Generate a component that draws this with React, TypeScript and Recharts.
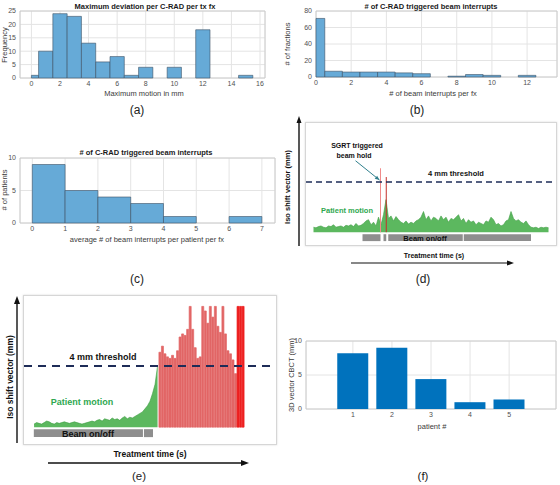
import React from 'react';
import {
  ComposedChart, BarChart, Bar, Line, Area, XAxis, YAxis, CartesianGrid,
  ReferenceArea, ReferenceLine, Cell,
} from 'recharts';

// (a) maximum deviation per C-RAD per tx fx
const aEdges = [0, 0.5, 1.5, 2.5, 3.5, 4.5, 5.5, 6.5, 7.5, 8.5, 9.5, 10.5, 11.5, 12.5, 13.5, 14.5, 15.5];
const aCounts = [1, 10, 24, 23, 13, 6, 8, 1, 4, 0, 4, 0, 18, 0, 0, 1];
const aTicksX = [0, 2, 4, 6, 8, 10, 12, 14, 16];
const aTicksY = [0, 5, 10, 15, 20, 25];

// (b) beam interrupts per fraction
const bEdges = [0, 0.5, 1.5, 2.5, 3.5, 4.5, 5.5, 6.5, 7.5, 8.5, 9.5, 10.5, 11.5, 12.5];
const bCounts = [71, 7, 6, 6, 6, 5, 4, 0, 1, 3, 2, 0, 2];
const bTicksX = [0, 2, 4, 6, 8, 10, 12];
const bTicksY = [0, 20, 40, 60, 80];

// (c) average interrupts per patient
const cEdges = [0, 1, 2, 3, 4, 5, 6, 7];
const cCounts = [9, 5, 4, 3, 1, 0, 1];
const cTicksX = [0, 1, 2, 3, 4, 5, 6, 7];
const cTicksY = [0, 5, 10];

// (f) 3D vector CBCT
const fPatients = [1, 2, 3, 4, 5];
const fVector = [8.2, 9.0, 4.4, 1.0, 1.4];
const fTicksY = [0, 5, 10];

// (d) schematic: motion trace (mm), one sample per time unit starting at t=3
const dStart = 3;
const dGreen = [
  0.4, 0.35, 0.45, 0.5, 0.4, 0.35, 0.5, 0.45, 0.6, 0.4,
  0.45, 0.5, 0.4, 0.55, 0.5, 0.6, 0.45, 0.7, 0.5, 0.55,
  0.7, 0.9, 1.0, 0.6, 0.8, 0.5, 1.2, 0.6, 1.4, 2.6,
  1.1, 1.3, 0.9, 1.25, 1.0, 0.8, 0.7, 0.9, 0.65, 0.8,
  0.7, 0.9, 1.0, 1.2, 1.65, 1.0, 1.3, 0.9, 1.2, 1.1,
  0.9, 1.3, 1.0, 1.2, 0.8, 1.1, 1.0, 1.2, 1.4, 0.9,
  1.1, 0.7, 1.0, 0.8, 0.9, 0.6, 0.8, 0.7, 0.6, 0.9,
  0.8, 1.2, 1.0, 0.6, 0.7, 0.5, 0.6, 0.9, 1.0, 1.65,
  1.1, 0.9, 1.0, 0.8, 0.7, 0.9, 0.6, 0.4, 0.35, 0.4,
  0.3, 0.4, 0.35, 0.4, 0.35,
];
const dHolds = [{ t: 29.8, peak: 5.1 }, { t: 32.1, peak: 4.4 }];
const dBeam = [[22.6, 29.8], [31.0, 32.1], [32.9, 62.7], [63.1, 90.0]];

// (e) schematic: motion below threshold then beam holds
const eStart = 4;
const eGreen = [
  0.2, 0.3, 0.25, 0.2, 0.3, 0.4, 0.35, 0.25, 0.2, 0.3,
  0.25, 0.3, 0.35, 0.3, 0.25, 0.3, 0.35, 0.3, 0.25, 0.2,
  0.25, 0.3, 0.35, 0.4, 0.35, 0.45, 0.5, 0.4, 0.55, 0.5,
  0.45, 0.6, 0.5, 0.55, 0.45, 0.6, 0.7, 0.55, 0.65, 0.6,
  0.7, 0.8, 0.9, 1.0, 1.2, 1.4, 1.7, 2.2, 2.8, 4.0,
];
const eRed = [
  4.9, 5.3, 4.8, 4.6, 4.5, 4.7, 4.5, 5.0, 5.9, 6.1,
  6.0, 6.4, 7.9, 6.4, 5.2, 4.5, 4.6, 7.9, 7.6, 6.8,
  7.9, 7.2, 7.9, 6.6, 6.2, 7.9, 6.1, 5.0, 4.8, 4.4,
  3.5, 7.9, 7.9, 7.9,
];
const eHoldFrom = 85;
const eBeam = [[3.9, 47.2], [47.6, 51.2]];

const THRESH = 4;
const FONT = '"Liberation Sans", Arial, sans-serif';
const HIST_FILL = '#66aad7';
const HIST_EDGE = '#3c5064';
const GRID = '#e4e4e4';
const BOX = '#c6c6c6';
const TICK = { fontSize: 7, fill: '#505050' };

function Txt({ x, y, size = 7.5, bold = false, color = '#3a3a3a', rotate = false, children }: any) {
  return (
    <div style={{
      position: 'absolute', left: x, top: y,
      transform: `translate(-50%, -50%)${rotate ? ' rotate(-90deg)' : ''}`,
      fontSize: size, fontWeight: bold ? 700 : 400, color,
      whiteSpace: 'nowrap', lineHeight: 1,
    }}>
      {children}
    </div>
  );
}

function Hist({ left, top, width, height, margin, yWidth, xHeight, xDomain, yDomain, xTicks, yTicks, edges, counts }: any) {
  const bins = counts.map((c: number, i: number) => ({
    lo: edges[i], hi: edges[i + 1], mid: (edges[i] + edges[i + 1]) / 2, count: c,
  }));
  return (
    <div style={{ position: 'absolute', left, top }}>
      <ComposedChart width={width} height={height} data={bins} margin={margin}>
        <CartesianGrid stroke={GRID} />
        <XAxis type="number" dataKey="mid" domain={xDomain} ticks={xTicks} interval={0}
          height={xHeight} tick={TICK} tickLine={false} axisLine={false} tickSize={3} tickMargin={0} />
        <YAxis type="number" domain={yDomain} ticks={yTicks} interval={0}
          width={yWidth} tick={TICK} tickLine={false} axisLine={false} tickSize={3} tickMargin={1} />
        <ReferenceArea x1={xDomain[0]} x2={xDomain[1]} y1={yDomain[0]} y2={yDomain[1]}
          fill="none" stroke={BOX} strokeWidth={0.8} ifOverflow="visible" />
        {bins.filter((b: any) => b.count > 0).map((b: any) => (
          <ReferenceArea key={b.lo} x1={b.lo} x2={b.hi} y1={0} y2={b.count}
            fill={HIST_FILL} fillOpacity={1} stroke={HIST_EDGE} strokeWidth={0.6} ifOverflow="visible" />
        ))}
        <Line dataKey="count" stroke="none" dot={false} activeDot={false} isAnimationActive={false} />
      </ComposedChart>
    </div>
  );
}

const arrowShape = (props: any) => {
  const { x1, y1, x2, y2 } = props;
  const a = Math.atan2(y2 - y1, x2 - x1);
  const h = 5;
  const p1 = `${x2},${y2}`;
  const p2 = `${x2 - h * Math.cos(a - 0.4)},${y2 - h * Math.sin(a - 0.4)}`;
  const p3 = `${x2 - h * Math.cos(a + 0.4)},${y2 - h * Math.sin(a + 0.4)}`;
  return (
    <g>
      <line x1={x1} y1={y1} x2={x2} y2={y2} stroke="#2f7f8c" strokeWidth={1} />
      <polygon points={`${p1} ${p2} ${p3}`} fill="#2f7f8c" />
    </g>
  );
};

function PanelD() {
  const data = dGreen.map((v, i) => ({ t: dStart + i, green: v }));
  return (
    <div style={{
      position: 'absolute', left: 305, top: 122, width: 252, height: 124,
      border: '1px solid #d6d6d6', boxShadow: '0 0 2px rgba(0,0,0,0.15)', boxSizing: 'border-box',
    }}>
      <ComposedChart width={250} height={122} data={data} margin={{ top: 0, right: 0, bottom: 0, left: 0 }}>
        <XAxis type="number" dataKey="t" domain={[0, 100]} hide />
        <YAxis type="number" domain={[-1.02, 8.71]} hide />
        <Area dataKey="green" type="linear" fill="#5cb85f" fillOpacity={1} stroke="#3e9c43"
          strokeWidth={0.6} isAnimationActive={false} dot={false} activeDot={false} />
        {dHolds.map((h, i) => (
          <ReferenceLine key={h.t} segment={[{ x: h.t, y: 0 }, { x: h.t, y: h.peak }]}
            stroke={i === 0 ? '#f08a8a' : '#c4302b'} strokeWidth={1} ifOverflow="visible" />
        ))}
        {dBeam.map(([s, e]) => (
          <ReferenceArea key={s} x1={s} x2={e} y1={-0.71} y2={-0.16}
            fill="#8e8e8e" fillOpacity={1} stroke="none" ifOverflow="visible" />
        ))}
        <ReferenceLine y={THRESH} stroke="#1e2c58" strokeWidth={1.4} strokeDasharray="6 4" />
        <ReferenceLine segment={[{ x: 19.8, y: 5.7 }, { x: 29.4, y: 4.16 }]} shape={arrowShape} ifOverflow="visible" />
      </ComposedChart>
    </div>
  );
}

function PanelE() {
  const data = [
    ...eGreen.map((v, i) => ({ t: eStart + i, green: v })),
    ...eRed.map((v, i) => ({ t: eStart + eGreen.length + i, red: v })),
  ];
  return (
    <div style={{
      position: 'absolute', left: 23, top: 295, width: 254, height: 150,
      border: '1px solid #d6d6d6', boxShadow: '0 0 2px rgba(0,0,0,0.15)', boxSizing: 'border-box',
    }}>
      <ComposedChart width={252} height={148} data={data} barCategoryGap="4%"
        margin={{ top: 0, right: 0, bottom: 0, left: 0 }}>
        <XAxis type="number" dataKey="t" domain={[0, 100]} hide />
        <YAxis type="number" domain={[-1.1, 8.58]} hide />
        <Area dataKey="green" type="linear" fill="#5cb85f" fillOpacity={1} stroke="#3e9c43"
          strokeWidth={0.6} isAnimationActive={false} dot={false} activeDot={false} />
        <Bar dataKey="red" isAnimationActive={false}>
          {data.map((d) => {
            const c = d.t >= eHoldFrom ? '#ee2020' : '#e26666';
            return <Cell key={d.t} fill={c} stroke={c} strokeWidth={0.7} />;
          })}
        </Bar>
        {eBeam.map(([s, e]) => (
          <ReferenceArea key={s} x1={s} x2={e} y1={-0.65} y2={-0.13}
            fill="#8e8e8e" fillOpacity={1} stroke="none" ifOverflow="visible" />
        ))}
        <ReferenceLine y={THRESH} stroke="#1e2c58" strokeWidth={1.8} strokeDasharray="8 6" />
      </ComposedChart>
    </div>
  );
}

export default function App() {
  const fData = fPatients.map((p, i) => ({ patient: p, vector: fVector[i] }));
  return (
    <div style={{
      position: 'absolute', left: 0, top: 0, width: 560, height: 485,
      background: '#fff', overflow: 'hidden', fontFamily: FONT,
    }}>
      {/* (a) */}
      <Hist left={0} top={0} width={280} height={100} yWidth={20} xHeight={22}
        margin={{ top: 11, right: 15, bottom: 0, left: 0 }}
        xDomain={[-0.8, 16.35]} yDomain={[0, 25]} xTicks={aTicksX} yTicks={aTicksY}
        edges={aEdges} counts={aCounts} />
      <Txt x={145} y={7} bold color="#1a1a1a">Maximum deviation per C-RAD per tx fx</Txt>
      <Txt x={144} y={94}>Maximum motion in mm</Txt>
      <Txt x={5} y={45} rotate>Frequency</Txt>
      <Txt x={137} y={110} size={12} color="#222">(a)</Txt>

      {/* (b) */}
      <Hist left={280} top={0} width={280} height={100} yWidth={36} xHeight={23}
        margin={{ top: 11, right: 3, bottom: 0, left: 0 }}
        xDomain={[0, 13.7]} yDomain={[0, 80]} xTicks={bTicksX} yTicks={bTicksY}
        edges={bEdges} counts={bCounts} />
      <Txt x={431} y={7} bold color="#1a1a1a"># of C-RAD triggered beam interrupts</Txt>
      <Txt x={433} y={94}># of beam interrupts per fx</Txt>
      <Txt x={288} y={44} rotate># of fractions</Txt>
      <Txt x={417} y={110} size={12} color="#222">(b)</Txt>

      {/* (c) */}
      <Hist left={0} top={140} width={280} height={100} yWidth={20} xHeight={17}
        margin={{ top: 18, right: 5, bottom: 0, left: 0 }}
        xDomain={[-0.375, 7.4]} yDomain={[0, 10]} xTicks={cTicksX} yTicks={cTicksY}
        edges={cEdges} counts={cCounts} />
      <Txt x={146} y={153} bold color="#1a1a1a"># of C-RAD triggered beam interrupts</Txt>
      <Txt x={147} y={240}>average # of beam interrupts per patient per fx</Txt>
      <Txt x={5} y={190} rotate># of patients</Txt>
      <Txt x={137} y={279} size={12} color="#222">(c)</Txt>

      {/* (d) */}
      <PanelD />
      <Txt x={357} y={145} size={7} bold color="#111">SGRT triggered</Txt>
      <Txt x={354} y={155} size={7} bold color="#111">beam hold</Txt>
      <Txt x={456} y={174} size={7.5} bold color="#111">4 mm threshold</Txt>
      <Txt x={347} y={211} size={7.5} bold color="#2fa84f">Patient motion</Txt>
      <Txt x={425} y={239} size={7.5} bold color="#111">Beam on/off</Txt>
      <Txt x={434} y={255} size={7} bold color="#111">Treatment time (s)</Txt>
      <Txt x={288} y={187} size={7.5} bold color="#111" rotate>Iso shift vector (mm)</Txt>
      <Txt x={423} y={279} size={12} color="#222">(d)</Txt>

      {/* (e) */}
      <PanelE />
      <Txt x={103} y={357} size={9} bold color="#111">4 mm threshold</Txt>
      <Txt x={82} y={402} size={9} bold color="#2fa84f">Patient motion</Txt>
      <Txt x={88} y={434} size={9} bold color="#111">Beam on/off</Txt>
      <Txt x={150} y={454} size={8.5} bold color="#111">Treatment time (s)</Txt>
      <Txt x={10} y={377} size={8.5} bold color="#111" rotate>Iso shift vector (mm)</Txt>
      <Txt x={139} y={477} size={11.5} color="#222">(e)</Txt>

      {/* (f) */}
      <div style={{ position: 'absolute', left: 280, top: 290 }}>
        <BarChart width={280} height={140} data={fData} barCategoryGap="10%"
          margin={{ top: 51, right: 4, bottom: 0, left: 0 }}>
          <CartesianGrid stroke={GRID} />
          <XAxis type="number" dataKey="patient" domain={[-0.2, 6.2]} ticks={fPatients} interval={0}
            height={21} tick={TICK} tickLine={false} axisLine={false} tickSize={3} tickMargin={0} />
          <YAxis type="number" domain={[0, 10]} ticks={fTicksY} interval={0}
            width={26} tick={TICK} tickLine={false} axisLine={false} tickSize={3} tickMargin={1} />
          <ReferenceArea x1={-0.2} x2={6.2} y1={0} y2={10}
            fill="none" stroke={BOX} strokeWidth={0.8} ifOverflow="visible" />
          <Bar dataKey="vector" fill="#0072bd" isAnimationActive={false} />
        </BarChart>
      </div>
      <Txt x={292} y={375} rotate>3D vector CBCT (mm)</Txt>
      <Txt x={432} y={427}>patient #</Txt>
      <Txt x={423} y={477} size={11.5} color="#222">(f)</Txt>

      {/* axis arrows of the schematics */}
      <svg width={560} height={485} style={{ position: 'absolute', left: 0, top: 0, pointerEvents: 'none' }}>
        <line x1={299} y1={246} x2={299} y2={121} stroke="#111" strokeWidth={1.4} />
        <polygon points="299,116 296.5,123 301.5,123" fill="#111" />
        <line x1={351} y1={263} x2={508} y2={263} stroke="#111" strokeWidth={1.2} />
        <polygon points="514,263 507,260.5 507,265.5" fill="#111" />
        <line x1={17} y1={443} x2={17} y2={302} stroke="#111" strokeWidth={1.4} />
        <polygon points="17,296 14,304 20,304" fill="#111" />
        <line x1={48} y1={463} x2={242} y2={463} stroke="#111" strokeWidth={1.3} />
        <polygon points="249,463 241,460 241,466" fill="#111" />
      </svg>
    </div>
  );
}
